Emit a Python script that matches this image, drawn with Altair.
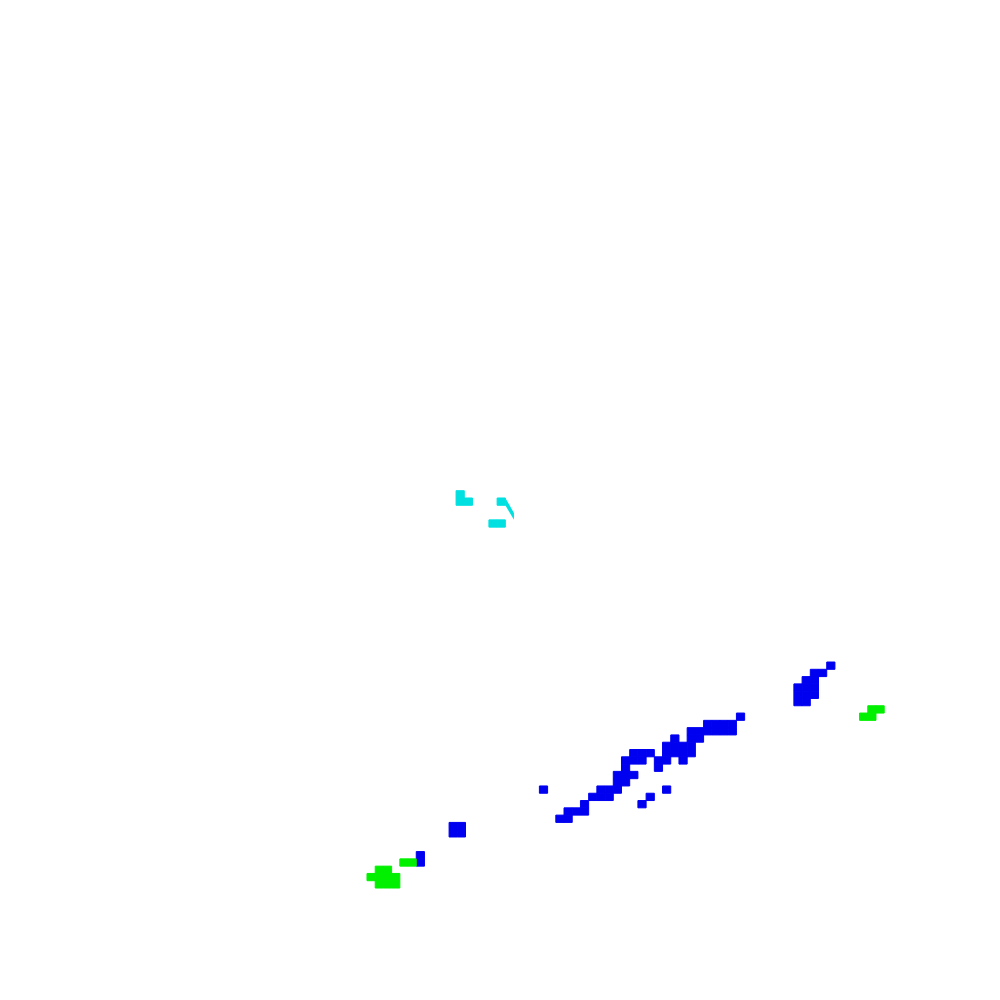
import altair as alt
import pandas as pd

# grid cells: column index (left to right), row index (top to bottom)
blue_col = [56,
            54, 55,
            53, 54,
            52, 53, 54,
            52, 53, 54,
            52, 53,
            45,
            41, 42, 43, 44,
            39, 40, 41, 42, 43, 44,
            37, 39, 40,
            36, 37, 38, 39,
            32, 33, 34, 36, 37, 38, 39,
            31, 32, 33, 35, 36, 38,
            31, 35,
            30, 31, 32,
            30, 31,
            21, 28, 29, 30, 36,
            27, 28, 29, 34,
            26, 33,
            24, 25, 26,
            23, 24,
            10, 11,
            10, 11,
            6,
            6]
blue_row = [0,
            1, 1,
            2, 2,
            3, 3, 3,
            4, 4, 4,
            5, 5,
            7,
            8, 8, 8, 8,
            9, 9, 9, 9, 9, 9,
            10, 10, 10,
            11, 11, 11, 11,
            12, 12, 12, 12, 12, 12, 12,
            13, 13, 13, 13, 13, 13,
            14, 14,
            15, 15, 15,
            16, 16,
            17, 17, 17, 17, 17,
            18, 18, 18, 18,
            19, 19,
            20, 20, 20,
            21, 21,
            22, 22,
            23, 23,
            26,
            27]

green_col = [61, 62, 60, 61, 4, 5, 1, 2, 0, 1, 2, 3, 1, 2, 3]
green_row = [6, 6, 7, 7, 27, 27, 28, 28, 29, 29, 29, 29, 30, 30, 30]

# cyan patches sit on a grid shifted against the others
cyan_col = [11, 11, 12, 16, 15, 16]
cyan_row = [-24, -23, -23, -23, -20, -20]
cyan_shift = (-0.15, 0.5)
# slanted cyan strip
strip_x = [16.85, 17.9]
strip_top = [-22.5, -20.45]
strip_bottom = [-21.5, -19.5]

colors = {"blue": "#0000f0", "green": "#00f000", "cyan": "#00e0e0"}

rows = []
for c, r in zip(blue_col, blue_row):
    rows.append({"x0": c, "x1": c + 1, "y0": r, "y1": r + 1, "kind": "blue"})
for c, r in zip(green_col, green_row):
    rows.append({"x0": c, "x1": c + 1, "y0": r, "y1": r + 1, "kind": "green"})
for c, r in zip(cyan_col, cyan_row):
    x = c + cyan_shift[0]
    y = r + cyan_shift[1]
    rows.append({"x0": x, "x1": x + 1, "y0": y, "y1": y + 1, "kind": "cyan"})
cells = pd.DataFrame(rows)

strip = pd.DataFrame({"x": strip_x, "top": strip_top, "bottom": strip_bottom})

xs = alt.Scale(domain=[-43.73, 65.9], nice=False, zero=False)
ys = alt.Scale(domain=[-89.71, 33.74], nice=False, zero=False, reverse=True)
cs = alt.Scale(domain=list(colors.keys()), range=list(colors.values()))

# stroke in the fill colour hides the hairline seams between neighbouring cells
rects = alt.Chart(cells).mark_rect(strokeWidth=1, strokeOpacity=1).encode(
    x=alt.X("x0:Q", scale=xs, axis=None),
    x2="x1:Q",
    y=alt.Y("y0:Q", scale=ys, axis=None),
    y2="y1:Q",
    color=alt.Color("kind:N", scale=cs, legend=None),
    stroke=alt.Stroke("kind:N", scale=cs, legend=None),
)

band = alt.Chart(strip).mark_area(color=colors["cyan"]).encode(
    x=alt.X("x:Q", scale=xs, axis=None),
    y=alt.Y("top:Q", scale=ys, axis=None),
    y2="bottom:Q",
)

chart = (rects + band).properties(
    width=900, height=900, padding=0, autosize="none", background="white"
).configure_view(strokeWidth=0)

chart.save("out.html", embed_options={"renderer": "svg", "actions": False})
